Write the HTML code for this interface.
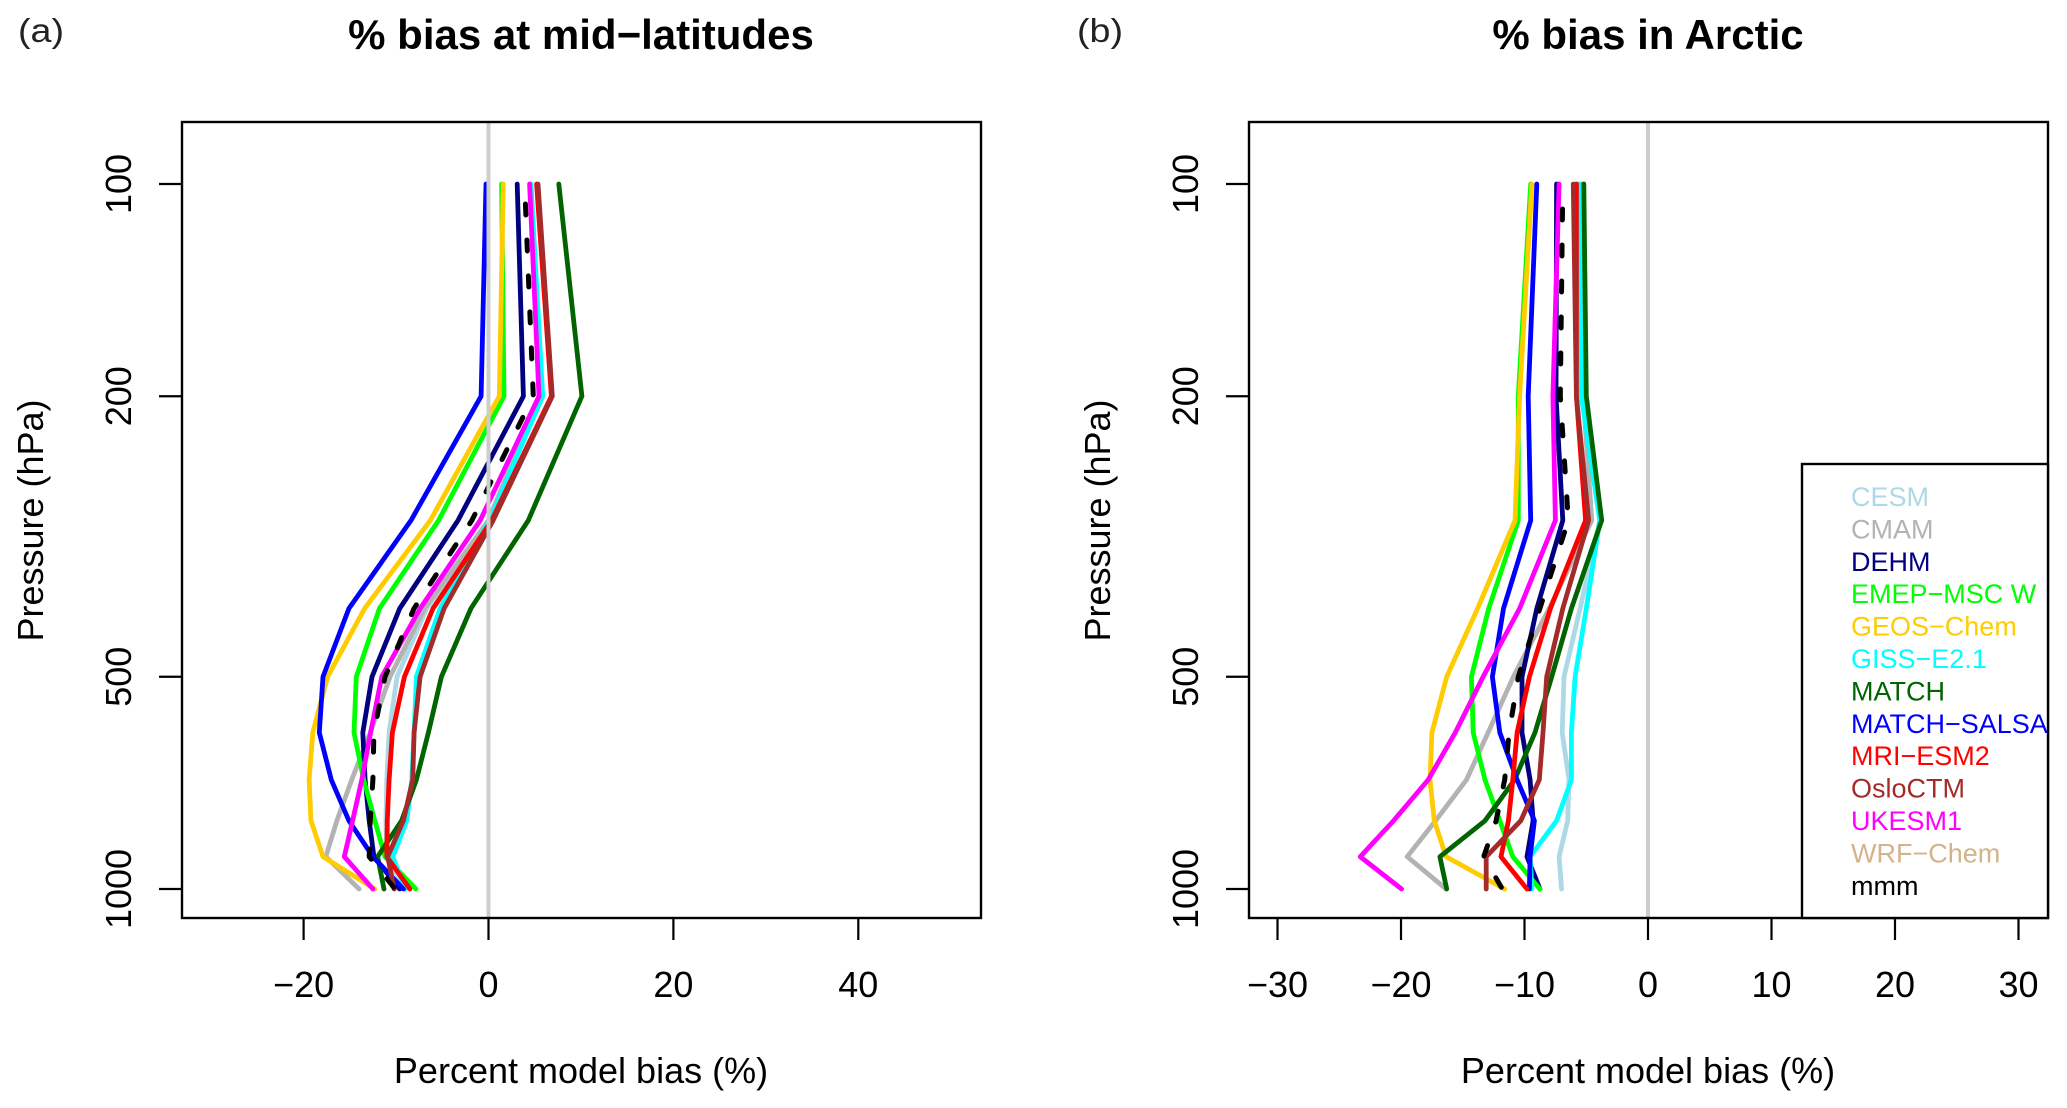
<!DOCTYPE html>
<html lang="en">
<head>
<meta charset="utf-8">
<title>% bias profiles</title>
<style>
html,body{margin:0;padding:0;background:#fff;}
svg{display:block;font-family:"Liberation Sans",sans-serif;}
</style>
</head>
<body>
<svg id="chart" width="2067" height="1108" viewBox="0 0 2067 1108" xmlns="http://www.w3.org/2000/svg"></svg>
<script>
const pressureLevels = [100,200,300,400,500,600,700,800,900,1000];
const yTickLabels = [100,200,500,1000];
const xTicksMid = [-20,0,20,40];
const xTicksArctic = [-30,-20,-10,0,10,20,30];

const modelNames = ['CESM','CMAM','DEHM','EMEP\u2212MSC W','GEOS\u2212Chem','GISS\u2212E2.1','MATCH','MATCH\u2212SALSA','MRI\u2212ESM2','OsloCTM','UKESM1','WRF\u2212Chem','mmm'];
const modelColors = ['#add8e6','#b3b3b3','#000080','#00ff00','#ffcc00','#00ffff','#006400','#0000ff','#ff0000','#a52a2a','#ff00ff','#d2b48c','#000000'];

const midCESM   = [4.5,5.5,0,-6.7,-9.9,-10.75,-11,-11.1,-11,-9];
const midCMAM   = [4.5,5.5,0,-6.9,-10.65,-12.8,-14.8,-16.4,-17.6,-14];
const midDEHM   = [3.1,3.77,-3.3,-9.6,-12.6,-13.6,-13.35,-12.9,-12.4,-9.6];
const midEMEP   = [1.42,1.68,-5.4,-11.8,-14.3,-14.55,-13.5,-12.3,-11.2,-7.85];
const midGEOS   = [1.6,1.17,-6.3,-13.4,-17.4,-19,-19.4,-19.2,-17.9,-12.3];
const midGISS   = [4.6,5.86,0.1,-5.25,-7.8,-8.05,-8.3,-8.85,-10.35,-9];
const midMATCH  = [7.6,10.1,4.3,-1.9,-5.1,-6.5,-7.8,-9.4,-12,-11.3];
const midSALSA  = [-0.27,-0.8,-8.38,-15.1,-17.9,-18.3,-17,-15.1,-12.5,-9.2];
const midMRI    = [5.2,6.8,0.35,-6,-9.1,-10.4,-10.75,-10.95,-11,-8.5];
const midOslo   = [5.35,6.9,0.5,-4.8,-7.4,-8.05,-8.2,-9.2,-10.9,-10.2];
const midUKESM  = [4.45,5.46,-0.9,-7.4,-11.55,-12.75,-13.7,-14.7,-15.6,-12.5];
const midWRF    = [];
const midMMM    = [3.9,4.85,-1.8,-8.06,-11.2,-12.4,-12.5,-12.8,-12.9,-10.1];

const arcCESM   = [-5.5,-5.25,-3.9,-5.5,-6.8,-6.95,-6.4,-6.5,-7.2,-7];
const arcCMAM   = [-5.4,-5.25,-4.55,-8,-10.9,-12.95,-14.7,-17.2,-19.5,-16.35];
const arcDEHM   = [-7.4,-7.45,-6.9,-9,-10.2,-10.2,-9.55,-9.3,-9.8,-8.75];
const arcEMEP   = [-9.5,-10.5,-10.5,-12.9,-14.3,-14.15,-13.2,-12,-10.95,-8.75];
const arcGEOS   = [-9.4,-10.4,-10.77,-13.8,-16.3,-17.5,-17.65,-17.3,-16.35,-11.6];
const arcGISS   = [-5.6,-5.4,-3.9,-5,-5.9,-6.2,-6.2,-7.4,-9.55,-9.4];
const arcMATCH  = [-5.2,-5,-3.75,-6.2,-7.8,-9.15,-10.8,-13.2,-16.85,-16.3];
const arcSALSA  = [-9,-9.7,-9.5,-11.7,-12.6,-12,-10.6,-9.2,-9.55,-9.6];
const arcMRI    = [-5.8,-5.8,-5.05,-7.9,-9.6,-10.6,-10.95,-11.3,-11.9,-9.8];
const arcOslo   = [-6.05,-5.8,-4.8,-6.9,-8.2,-8.5,-8.8,-10.3,-13.1,-13.1];
const arcUKESM  = [-7.2,-7.7,-7.5,-10.4,-13.35,-15.6,-17.8,-20.6,-23.3,-19.95];
const arcWRF    = [];
const arcMMM    = [-6.9,-7.1,-6.45,-8.75,-10.5,-11.25,-11.6,-12.3,-13.3,-11.8];

const midSeries = [midCESM,midCMAM,midDEHM,midEMEP,midGEOS,midGISS,midMATCH,midSALSA,midMRI,midOslo,midUKESM,midWRF,midMMM];
const arcSeries = [arcCESM,arcCMAM,arcDEHM,arcEMEP,arcGEOS,arcGISS,arcMATCH,arcSALSA,arcMRI,arcOslo,arcUKESM,arcWRF,arcMMM];

const NS = 'http://www.w3.org/2000/svg';
const svg = document.getElementById('chart');
const frameTop = 122, frameBottom = 918;
const labelSize = 36;

function yAxis(p){ return 184 + 705 * Math.log10(p / 100); }
function xAxisMid(v){ return 488.5 + 9.245 * v; }
function xAxisArctic(v){ return 1648 + 12.35 * v; }

function make(tag, attrs, text){
  const el = document.createElementNS(NS, tag);
  for (const k in attrs) el.setAttribute(k, attrs[k]);
  if (text !== undefined) el.textContent = text;
  svg.appendChild(el);
  return el;
}

function drawPanel(prefix, left, right, xAxis, xTicks, series, title, tag, tagX, centerX, dashOffset){
  let el;
  series.forEach(function(values, i){
    if (!values.length) return;
    const pts = values.map(function(v, j){ return xAxis(v).toFixed(1) + ',' + yAxis(pressureLevels[j]).toFixed(1); }).join(' ');
    const isMean = modelNames[i] === 'mmm';
    el = make('polyline', {points: pts, fill: 'none', stroke: modelColors[i], 'stroke-width': isMean ? 5 : 4.8, 'stroke-linejoin': 'round', 'stroke-linecap': 'round', 'stroke-dasharray': isMean ? '11 25' : 'none', 'stroke-dashoffset': isMean ? dashOffset : 0});
    
    
  });

  el = make('line', {x1: xAxis(0), x2: xAxis(0), y1: frameTop, y2: frameBottom, stroke: '#cdcdcd', 'stroke-width': 4});
  
  

  el = make('rect', {x: left, y: frameTop, width: right - left, height: frameBottom - frameTop, fill: 'none', stroke: '#000', 'stroke-width': 2.4});
  
  

  xTicks.forEach(function(t){
    const x = xAxis(t);
    el = make('line', {x1: x, x2: x, y1: frameBottom, y2: frameBottom + 22, stroke: '#000', 'stroke-width': 2.2});
    
    
    el = make('text', {x: x, y: 997, 'font-size': labelSize, 'text-anchor': 'middle', fill: '#000'}, String(t).replace('-', '\u2212'));
    
    
  });

  yTickLabels.forEach(function(t){
    const y = yAxis(t);
    el = make('line', {x1: left - 23, x2: left, y1: y, y2: y, stroke: '#000', 'stroke-width': 2.2});
    
    
    el = make('text', {transform: 'translate(' + (left - 51) + ',' + y + ') rotate(-90)', 'font-size': labelSize, 'text-anchor': 'middle', fill: '#000'}, String(t));
    
    
  });

  el = make('text', {x: centerX, y: 1083, 'font-size': labelSize, 'text-anchor': 'middle', fill: '#000'}, 'Percent model bias (%)');
  
  

  el = make('text', {transform: 'translate(' + (left - 139) + ',520.5) rotate(-90)', 'font-size': labelSize, 'text-anchor': 'middle', fill: '#000'}, 'Pressure (hPa)');
  
  

  el = make('text', {x: centerX, y: 49, 'font-size': 42, 'font-weight': 'bold', 'text-anchor': 'middle', fill: '#000'}, title);
  
  

  el = make('text', {x: tagX, y: 42, 'font-size': 33, fill: '#222', textLength: 46, lengthAdjust: 'spacingAndGlyphs'}, tag);
  
  
}

drawPanel('mid-latitudes', 182, 981, xAxisMid, xTicksMid, midSeries, '% bias at mid\u2212latitudes', '(a)', 18, 581, 16);
drawPanel('arctic', 1249, 2048, xAxisArctic, xTicksArctic, arcSeries, '% bias in Arctic', '(b)', 1077, 1648, 11);

let box = make('rect', {x: 1802, y: 464, width: 246, height: 454, fill: '#fff', stroke: '#000', 'stroke-width': 2.4});



modelNames.forEach(function(name, i){
  const entry = make('text', {x: 1851, y: 506 + 32.4 * i, 'font-size': 27, fill: modelColors[i]}, name);
  
  
});
</script>
</body>
</html>
